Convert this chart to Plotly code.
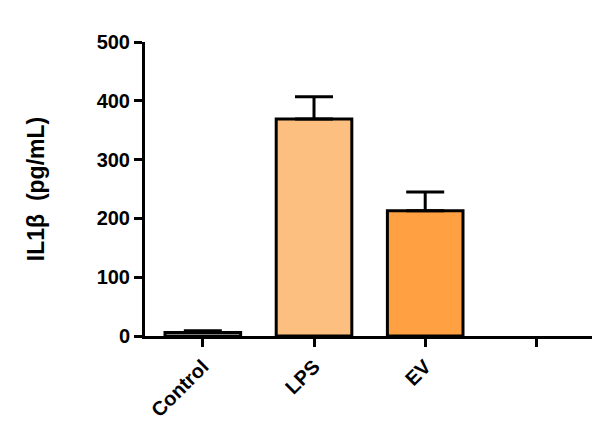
import plotly.graph_objects as go

# data
categories = ['Control', 'LPS', 'EV', '']
positions = [0, 1, 2, 3]
means = [6, 369, 213]
sem = [3, 38, 32]
fills = ['white', '#FDBF80', '#FFA043']

y_ticks = [0, 100, 200, 300, 400, 500]

font_main = 'Liberation Sans, Arial, sans-serif'

fig = go.Figure()

fig.add_trace(
    go.Bar(x=positions[:len(means)],
           y=means,
           width=0.68,
           marker=dict(color=fills, line=dict(color='black', width=3)),
           error_y=dict(type='data', symmetric=False,
                        array=sem, arrayminus=[0]*len(sem),
                        color='black', thickness=3, width=19),
           showlegend=False,
    )
)

fig.update_xaxes(
    range=[-0.52, 3.5],
    tickmode='array',
    tickvals=positions,
    ticktext=['<b>%s</b>' % c for c in categories],
    tickangle=-45,
    ticks='outside', ticklen=8, tickwidth=3, tickcolor='black',
    showline=True, linewidth=3, linecolor='black',
    showgrid=False, zeroline=False,
    tickfont=dict(family=font_main, size=20, color='black'),
)

fig.update_yaxes(
    range=[0, 500],
    tickmode='array',
    tickvals=y_ticks,
    ticktext=['<b>%d</b>' % v for v in y_ticks],
    ticks='outside', ticklen=8, tickwidth=3, tickcolor='black',
    showline=True, linewidth=3, linecolor='black',
    showgrid=False, zeroline=False,
    tickfont=dict(family=font_main, size=20, color='black'),
    title=dict(text='<b>IL1β  (pg/mL)</b>',
               font=dict(family=font_main, size=23, color='black'),
               standoff=46),
)

# page body has an 8px margin, so the margins are shifted by that amount
fig.update_layout(
    width=609, height=443,
    margin=dict(l=137, r=25, t=34, b=115),
    plot_bgcolor='white',
    paper_bgcolor='white',
)

fig.write_html('out.html')
